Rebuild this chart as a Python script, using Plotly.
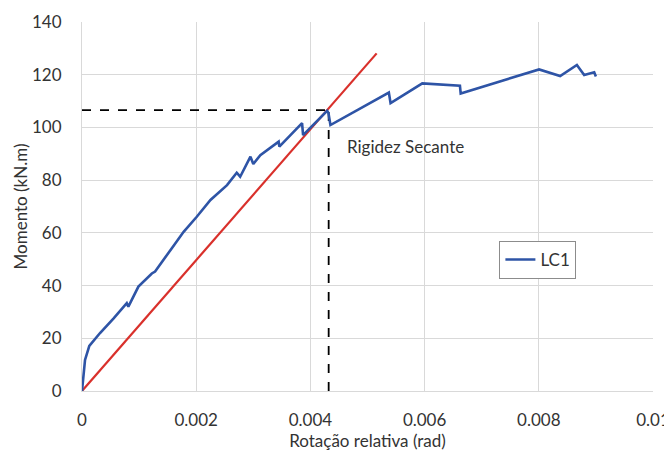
import plotly.graph_objects as go

# LC1 moment-rotation curve
rot_lc1 = [0.0, 0.000053, 0.000128, 0.000316, 0.00055, 0.000784, 0.000812, 0.000988,
           0.001223, 0.00128, 0.00157, 0.00178, 0.00201, 0.00225,
           0.00254, 0.00271, 0.00277, 0.00295, 0.0030, 0.003123, 0.003444,
           0.003456, 0.003854, 0.003872, 0.004293, 0.004316, 0.004351, 0.005374,
           0.005404, 0.00596, 0.006619, 0.006632, 0.008005, 0.008374, 0.008667,
           0.008795, 0.00897, 0.009]
mom_lc1 = [0.0, 11.8, 17.1, 22.0, 27.5, 33.3, 32.0, 39.6,
           44.6, 45.3, 54.1, 60.4, 66.1, 72.5,
           78.1, 82.8, 81.3, 88.9, 86.1, 89.5, 94.6,
           92.7, 101.6, 97.1, 106.3, 105.5, 100.9, 113.2,
           109.2, 116.7, 115.8, 112.9, 122.0, 119.5, 123.7,
           119.9, 120.9, 119.3]

# Secant stiffness line
rot_secant = [0.0, 0.00516]
mom_secant = [0.0, 128.1]

# Reference point (dashed guides)
rot_ref = 0.00432
mom_ref = 106.6

x_ticks = [0, 0.002, 0.004, 0.006, 0.008, 0.01]
x_tick_labels = ["0", "0.002", "0.004", "0.006", "0.008", "0.01"]
y_ticks = [0, 20, 40, 60, 80, 100, 120, 140]

FONT = "Lato"
TXT = "#333333"
FS = 17

fig = go.Figure()
fig.add_trace(go.Scatter(x=[0, rot_ref], y=[mom_ref, mom_ref], mode="lines",
                         line=dict(color="black", width=1.8, dash="dash"),
                         showlegend=False, hoverinfo="skip"))
fig.add_trace(go.Scatter(x=[rot_ref, rot_ref], y=[0, mom_ref], mode="lines",
                         line=dict(color="black", width=1.8, dash="dash"),
                         showlegend=False, hoverinfo="skip"))
fig.add_trace(go.Scatter(x=rot_secant, y=mom_secant, mode="lines",
                         line=dict(color="#D9302B", width=2.2),
                         showlegend=False))
fig.add_trace(go.Scatter(x=rot_lc1, y=mom_lc1, mode="lines", name="LC1",
                         line=dict(color="#2E54A6", width=2.6)))

fig.add_annotation(x=0.00461, y=92.6, text="Rigidez Secante", showarrow=False,
                   xanchor="left", yanchor="middle",
                   font=dict(family=FONT, size=FS, color=TXT))

# page body adds an 8px offset, so the figure is 8px smaller on each side used
fig.update_layout(
    width=664, height=444,
    margin=dict(l=74, r=19, t=14, b=61, autoexpand=False),
    paper_bgcolor="white", plot_bgcolor="white",
    font=dict(family=FONT, size=FS, color=TXT),
    legend=dict(x=0.731, y=0.4065, xanchor="left", yanchor="top",
                bordercolor="#8c8c8c", borderwidth=1, bgcolor="white",
                font=dict(family=FONT, size=FS, color=TXT),
                itemwidth=30, tracegroupgap=0),
    xaxis=dict(range=[0, 0.01], tickvals=x_ticks, ticktext=x_tick_labels,
               showgrid=True, gridcolor="#d9d9d9", gridwidth=1, automargin=False,
               zeroline=False, showline=True, linecolor="#d9d9d9", linewidth=1,
               ticks="", ticklabelstandoff=14,
               title=dict(text="Rotação relativa (rad)", standoff=2,
                          font=dict(family=FONT, size=FS, color=TXT))),
    yaxis=dict(range=[0, 140], tickvals=y_ticks, automargin=False,
               showgrid=True, gridcolor="#d9d9d9", gridwidth=1,
               zeroline=False, showline=True, linecolor="#d9d9d9", linewidth=1,
               ticks="", ticklabelstandoff=16,
               title=dict(text="Momento (kN.m)", standoff=0,
                          font=dict(family=FONT, size=FS, color=TXT))),
)

fig.write_html("out.html")
